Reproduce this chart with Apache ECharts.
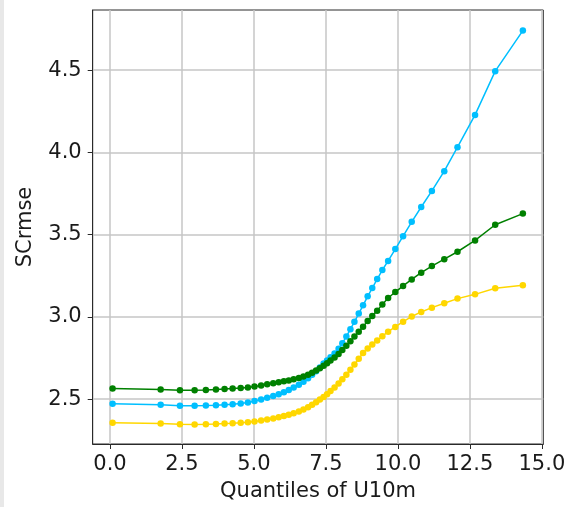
<!DOCTYPE html>
<html>
<head>
<meta charset="utf-8">
<script src="https://cdn.jsdelivr.net/npm/echarts@6/dist/echarts.min.js"></script>
<style>html,body{margin:0;padding:0;background:#fff}#c{width:577px;height:507px}</style>
</head>
<body>
<div id="c"></div>
<script>
const quantiles = [0.09, 1.76, 2.43, 2.94, 3.33, 3.68, 3.98, 4.26, 4.54, 4.79, 5.02, 5.25, 5.46, 5.67, 5.86, 6.04, 6.21, 6.38, 6.56, 6.72, 6.88, 7.02, 7.16, 7.29, 7.42, 7.54, 7.66, 7.80, 7.94, 8.07, 8.21, 8.35, 8.49, 8.64, 8.79, 8.95, 9.11, 9.28, 9.46, 9.66, 9.91, 10.18, 10.48, 10.81, 11.18, 11.61, 12.07, 12.68, 13.38, 14.34];
const blueValues = [2.472, 2.466, 2.460, 2.460, 2.461, 2.463, 2.466, 2.469, 2.473, 2.479, 2.488, 2.498, 2.508, 2.519, 2.530, 2.542, 2.555, 2.570, 2.587, 2.606, 2.627, 2.648, 2.670, 2.692, 2.716, 2.735, 2.755, 2.778, 2.806, 2.840, 2.880, 2.925, 2.970, 3.020, 3.070, 3.125, 3.175, 3.230, 3.285, 3.340, 3.412, 3.491, 3.578, 3.668, 3.766, 3.886, 4.032, 4.228, 4.494, 4.741];
const greenValues = [2.565, 2.558, 2.554, 2.554, 2.555, 2.558, 2.561, 2.564, 2.567, 2.570, 2.576, 2.583, 2.590, 2.597, 2.603, 2.608, 2.613, 2.620, 2.628, 2.637, 2.648, 2.660, 2.674, 2.688, 2.703, 2.718, 2.734, 2.753, 2.775, 2.798, 2.824, 2.852, 2.880, 2.910, 2.940, 2.975, 3.005, 3.038, 3.076, 3.115, 3.151, 3.188, 3.228, 3.269, 3.309, 3.351, 3.396, 3.465, 3.560, 3.628];
const goldValues = [2.356, 2.352, 2.347, 2.346, 2.347, 2.349, 2.351, 2.353, 2.356, 2.359, 2.364, 2.370, 2.376, 2.382, 2.389, 2.397, 2.405, 2.414, 2.425, 2.437, 2.451, 2.466, 2.481, 2.497, 2.513, 2.530, 2.549, 2.571, 2.595, 2.620, 2.648, 2.678, 2.710, 2.745, 2.780, 2.808, 2.832, 2.856, 2.882, 2.910, 2.939, 2.971, 3.002, 3.030, 3.056, 3.083, 3.111, 3.137, 3.174, 3.192];
const xTicks = [0, 2.5, 5, 7.5, 10, 12.5, 15];
const yTicks = [2.5, 3.0, 3.5, 4.0, 4.5];

const font = 'DejaVu Sans';
const pair = ys => quantiles.map((x, i) => [x, ys[i]]);
const mk = (name, color, ys, z) => ({
  name, type: 'line', data: pair(ys), z,
  symbol: 'circle', symbolSize: 6.5, showSymbol: true,
  lineStyle: { color, width: 1.5 }, itemStyle: { color },
  animation: false
});

const chart = echarts.init(document.getElementById('c'), null, { renderer: 'canvas' });
chart.setOption({
  backgroundColor: '#fff',
  animation: false,
  graphic: [{ type: 'rect', shape: { x: 0, y: 0, width: 4, height: 507 }, style: { fill: '#e8e8e8' }, silent: true }],
  grid: { left: 92.7, right: 33.7, top: 10, bottom: 62, show: true, borderColor: '#2a2a2a', borderWidth: 1, backgroundColor: 'transparent' },
  xAxis: {
    type: 'value', min: -0.6, max: 15.05,
    name: 'Quantiles of U10m', nameLocation: 'middle', nameGap: 37,
    nameTextStyle: { fontFamily: font, fontSize: 21, color: '#1a1a1a' },
    axisLine: { show: true, onZero: false, lineStyle: { color: '#2a2a2a', width: 1 } },
    axisTick: { show: true, length: 5, customValues: xTicks, lineStyle: { color: '#2a2a2a' } },
    axisLabel: { customValues: xTicks, margin: 10, fontFamily: font, fontSize: 21, color: '#1a1a1a', formatter: v => v.toFixed(1) },
    splitLine: { show: true, lineStyle: { color: '#c6c6c6', width: 1.5 } }
  },
  yAxis: {
    type: 'value', min: 2.227, max: 4.866,
    name: 'SCrmse', nameLocation: 'middle', nameGap: 57,
    nameTextStyle: { fontFamily: font, fontSize: 21, color: '#1a1a1a' },
    axisLine: { show: true, onZero: false, lineStyle: { color: '#2a2a2a', width: 1 } },
    axisTick: { show: true, length: 5, customValues: yTicks, lineStyle: { color: '#2a2a2a' } },
    axisLabel: { customValues: yTicks, margin: 11, fontFamily: font, fontSize: 21, color: '#1a1a1a', formatter: v => v.toFixed(1) },
    splitLine: { show: true, lineStyle: { color: '#c6c6c6', width: 1.5 } }
  },
  series: [
    mk('blue', '#00bfff', blueValues, 2),
    mk('gold', '#ffd700', goldValues, 3),
    mk('green', '#008000', greenValues, 4)
  ]
});
</script>
</body>
</html>
